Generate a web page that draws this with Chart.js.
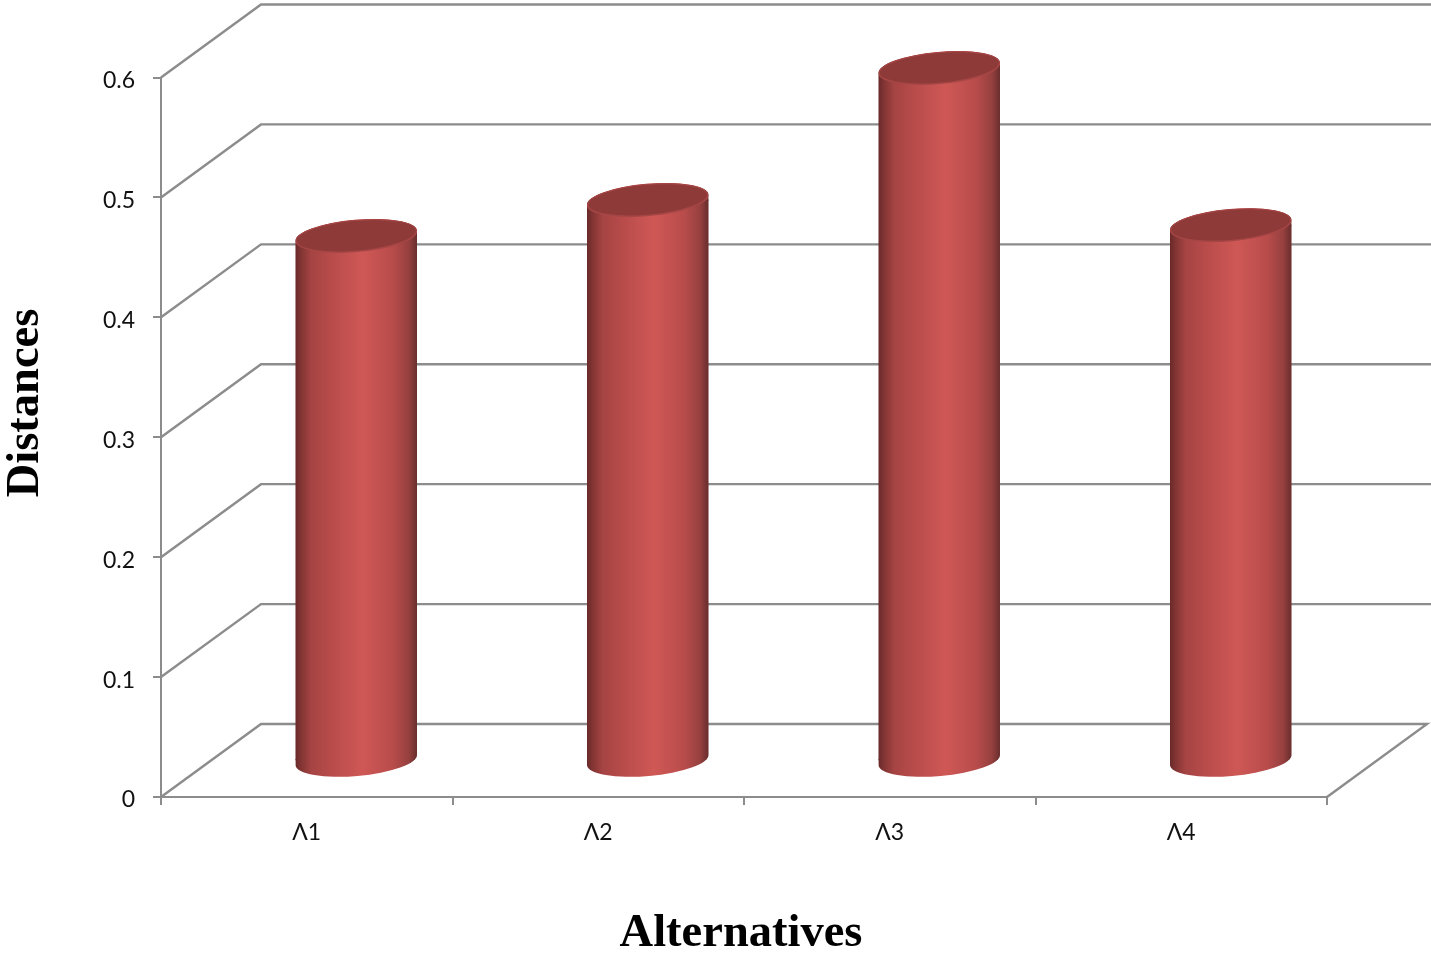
<!DOCTYPE html>
<html>
<head>
<meta charset="utf-8">
<title>Distances</title>
<script src="https://cdn.jsdelivr.net/npm/chart.js@4"></script>
<style>
    html, body { margin: 0; padding: 0; background: #fff; overflow: hidden; }
    canvas { display: block; }
</style>
</head>
<body>
<canvas id="chart" width="1431" height="953"></canvas>
<script>
// Data
const categories = ['Λ1', 'Λ2', 'Λ3', 'Λ4'];
const distances = [0.438, 0.468, 0.578, 0.447];
const xTitle = 'Alternatives';
const yTitle = 'Distances';

const lineColor = '#8c8c8c';
const capColor = '#8e3a39';
const capRim = '#a54645';
const depthX = 100, depthY = 73;   // back wall offset
const barOffsetX = 49.5, barOffsetY = 36;   // bars stand half way into the floor
const tilt = -5 * Math.PI / 180;
const capRy = 16;

function shade(ctx, cx, w) {
    const g = ctx.createLinearGradient(cx - w / 2, 0, cx + w / 2, 0);
    g.addColorStop(0, '#662928');
    g.addColorStop(0.04, '#7e3332');
    g.addColorStop(0.13, '#a54443');
    g.addColorStop(0.3, '#b84c4b');
    g.addColorStop(0.55, '#cf5855');
    g.addColorStop(0.8, '#b84c4b');
    g.addColorStop(0.93, '#96403f');
    g.addColorStop(1, '#662d2c');
    return g;
}

const cylinders = {
    id: 'cylinders',
    beforeDatasetsDraw(chart) {
        const { ctx, chartArea: a, scales: { y } } = chart;
        // side wall, back wall and floor
        ctx.save();
        ctx.strokeStyle = lineColor;
        ctx.lineWidth = 2.4;
        y.ticks.forEach(t => {
            const py = y.getPixelForValue(t.value);
            ctx.beginPath();
            ctx.moveTo(a.left, py);
            ctx.lineTo(a.left + depthX, py - depthY);
            ctx.lineTo(t.value === 0 ? a.right + depthX : chart.width, py - depthY);
            if (t.value === 0) ctx.lineTo(a.right, py);
            ctx.stroke();
        });
        ctx.restore();

        // everything after this sits inside the 3D box, clipped to the cylinder shape
        ctx.save();
        ctx.translate(barOffsetX, -barOffsetY);
        const bars = chart.getDatasetMeta(0).data;
        ctx.beginPath();
        bars.forEach(b => {
            const rx = b.width / 2;
            ctx.moveTo(b.x + rx * Math.cos(tilt), b.base + rx * Math.sin(tilt));
            ctx.ellipse(b.x, b.base, rx, capRy, tilt, 0, Math.PI);
            ctx.ellipse(b.x, b.y, rx, capRy, tilt, Math.PI, 2 * Math.PI);
            ctx.closePath();
        });
        ctx.clip();
        // the round ends stick out of the bar rectangle, fill those bands too
        bars.forEach(b => {
            const left = b.x - b.width / 2;
            ctx.fillStyle = shade(ctx, b.x, b.width);
            ctx.fillRect(left, b.base - 1, b.width, capRy + 8);
            ctx.fillRect(left, b.y - capRy - 8, b.width, capRy + 9);
        });
    },
    afterDatasetsDraw(chart) {
        const { ctx } = chart;
        chart.getDatasetMeta(0).data.forEach(b => {
            ctx.fillStyle = capColor;
            ctx.strokeStyle = capRim;
            ctx.lineWidth = 1.5;
            ctx.beginPath();
            ctx.ellipse(b.x, b.y, b.width / 2 - 0.5, capRy - 0.5, tilt, 0, 2 * Math.PI);
            ctx.fill();
            ctx.stroke();
        });
        ctx.restore();
    },
    afterDraw(chart) {
        // axis titles
        const { ctx } = chart;
        ctx.save();
        ctx.fillStyle = '#000';
        ctx.font = 'bold 46.5px "Liberation Serif"';
        ctx.textAlign = 'center';
        ctx.textBaseline = 'middle';
        ctx.fillText(xTitle, 741, 934);
        ctx.translate(26, 403);
        ctx.rotate(-Math.PI / 2);
        ctx.fillText(yTitle, 0, 0);
        ctx.restore();
    }
};

new Chart(document.getElementById('chart').getContext('2d'), {
    type: 'bar',
    data: {
        labels: categories,
        datasets: [{
            data: distances,
            barThickness: 122,
            clip: false,
            borderWidth: 0,
            backgroundColor(c) {
                const chart = c.chart;
                if (!chart.chartArea) return '#cd5654';
                return shade(chart.ctx, chart.scales.x.getPixelForValue(c.dataIndex), 122);
            }
        }]
    },
    plugins: [cylinders],
    options: {
        responsive: false,
        animation: false,
        layout: { padding: { top: 77.5, right: 104, left: 0, bottom: 0 } },
        plugins: { legend: { display: false }, tooltip: { enabled: false } },
        scales: {
            x: {
                afterFit(s) { s.height = 156; },
                grid: { drawOnChartArea: false, color: lineColor, lineWidth: 2, tickLength: 8 },
                border: { color: lineColor, width: 2 },
                ticks: { color: '#111', font: { family: 'Lato', size: 23 }, padding: 14, maxRotation: 0 }
            },
            y: {
                min: 0,
                max: 0.6,
                afterFit(s) { s.width = 161; },
                grid: { drawOnChartArea: false, color: lineColor, lineWidth: 2, tickLength: 8 },
                border: { color: lineColor, width: 2 },
                ticks: { stepSize: 0.1, color: '#111', font: { family: 'Lato', size: 23 }, padding: 18, labelOffset: 3 }
            }
        }
    }
});
</script>
</body>
</html>
